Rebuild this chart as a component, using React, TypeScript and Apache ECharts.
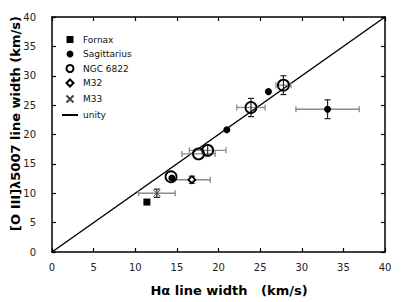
import React, { useEffect, useRef } from "react";
import * as echarts from "echarts";

const fornaxX = [11.4];
const fornaxY = [8.5];

const sagX = [14.4, 21.0, 26.0, 33.1];
const sagY = [12.6, 20.8, 27.3, 24.3];
const sagXErr = [0, 0, 0, 3.8];
const sagYErr = [0, 0, 0, 1.6];

const ngcX = [14.3, 17.6, 18.7, 23.9, 27.8];
const ngcY = [12.8, 16.7, 17.3, 24.6, 28.4];
const ngcXErr = [0, 2.0, 2.2, 1.7, 0.9];
const ngcYErr = [0, 0, 0.85, 1.55, 1.6];

const m32X = [16.8];
const m32Y = [12.3];
const m32XErr = [2.2];
const m32YErr = [0.6];

const m33X = [12.6];
const m33Y = [10.0];
const m33XErr = [2.2];
const m33YErr = [0.7];

const unityX = [0, 40];
const unityY = [0, 40];

const FONT = "DejaVu Sans";
const SQUARE = "path://M0,0L10,0L10,10L0,10Z";
const DIAMOND = "path://M5,0L10,5L5,10L0,5Z";
const CROSS = "path://M0,0L10,10M10,0L0,10";
const LINE_ICON = "path://M0,0L40,0L40,5L0,5Z";

function pts(xs: number[], ys: number[]) {
  return xs.map((x, i) => [x, ys[i]]);
}
function errPts(xs: number[], ys: number[], ex: number[], ey: number[]) {
  return xs.map((x, i) => [x, ys[i], ex[i], ey[i]]);
}

export default function App() {
  const ref = useRef<HTMLDivElement>(null);
  useEffect(() => {
    if (!ref.current) return;
    const chart = echarts.init(ref.current, null, { renderer: "svg" });

    const errorSeries = (data: number[][]) => ({
      type: "custom",
      silent: true,
      z: 1,
      encode: { x: 0, y: 1 },
      data,
      renderItem: (params: any, api: any) => {
        const x = api.value(0);
        const y = api.value(1);
        const ex = api.value(2);
        const ey = api.value(3);
        const children: any[] = [];
        const cap = 3;
        if (ex > 0) {
          const a = api.coord([x - ex, y]);
          const b = api.coord([x + ex, y]);
          const st = { stroke: "#8a8a8a", lineWidth: 1.3 };
          children.push({ type: "line", shape: { x1: a[0], y1: a[1], x2: b[0], y2: b[1] }, style: st });
          children.push({ type: "line", shape: { x1: a[0], y1: a[1] - cap, x2: a[0], y2: a[1] + cap }, style: st });
          children.push({ type: "line", shape: { x1: b[0], y1: b[1] - cap, x2: b[0], y2: b[1] + cap }, style: st });
        }
        if (ey > 0) {
          const a = api.coord([x, y - ey]);
          const b = api.coord([x, y + ey]);
          const st = { stroke: "#222", lineWidth: 1.2 };
          children.push({ type: "line", shape: { x1: a[0], y1: a[1], x2: b[0], y2: b[1] }, style: st });
          children.push({ type: "line", shape: { x1: a[0] - cap, y1: a[1], x2: a[0] + cap, y2: a[1] }, style: st });
          children.push({ type: "line", shape: { x1: b[0] - cap, y1: b[1], x2: b[0] + cap, y2: b[1] }, style: st });
        }
        return { type: "group", children };
      },
    });

    const axisCommon = {
      type: "value",
      min: 0,
      max: 40,
      interval: 5,
      splitLine: { show: false },
      axisLine: { show: true, onZero: false, lineStyle: { color: "#000", width: 1.5 } },
      axisTick: { show: true, inside: true, length: 4, lineStyle: { color: "#000", width: 1.2 } },
    };

    chart.setOption({
      animation: false,
      backgroundColor: "#fff",
      grid: {
        left: 52,
        right: 22,
        top: 17,
        bottom: 50,
        containLabel: false,
        outerBoundsMode: "none",
      },
      legend: {
        orient: "vertical",
        left: 62,
        top: 35,
        padding: 0,
        itemWidth: 16,
        itemHeight: 7,
        itemGap: 5.5,
        symbolKeepAspect: true,
        textStyle: { fontFamily: FONT, fontSize: 9, color: "#111" },
        data: [
          { name: "Fornax", icon: SQUARE },
          "Sagittarius",
          "NGC 6822",
          "M32",
          "M33",
          { name: "unity", icon: LINE_ICON },
        ],
      },
      xAxis: [
        {
          ...axisCommon,
          position: "bottom",
          axisLabel: { fontFamily: FONT, fontSize: 10, color: "#222", margin: 10 },
          name: "H\u03b1 line width   (km/s)",
          nameLocation: "middle",
          nameGap: 32,
          nameTextStyle: {
            fontFamily: FONT,
            fontSize: 13,
            fontWeight: "bold",
            color: "#000",
            padding: [0, 0, 0, 21],
          },
        },
        { ...axisCommon, position: "top", axisLabel: { show: false } },
      ],
      yAxis: [
        {
          ...axisCommon,
          position: "left",
          axisLabel: { fontFamily: FONT, fontSize: 10, color: "#222", margin: 16 },
          name: "[O III]\u03bb5007 line width (km/s)",
          nameLocation: "middle",
          nameGap: 30,
          nameMoveOverlap: false,
          nameTextStyle: {
            fontFamily: FONT,
            fontSize: 13,
            fontWeight: "bold",
            color: "#000",
            padding: [0, 0, 0, 22],
          },
        },
        { ...axisCommon, position: "right", axisLabel: { show: false } },
      ],
      series: [
        {
          name: "unity",
          type: "line",
          data: pts(unityX, unityY),
          symbol: "none",
          lineStyle: { color: "#000", width: 1.5 },
          itemStyle: { color: "#000" },
          z: 0,
          silent: true,
        },
        errorSeries(errPts(sagX, sagY, sagXErr, sagYErr)),
        errorSeries(errPts(ngcX, ngcY, ngcXErr, ngcYErr)),
        errorSeries(errPts(m32X, m32Y, m32XErr, m32YErr)),
        errorSeries(errPts(m33X, m33Y, m33XErr, m33YErr)),
        {
          name: "Fornax",
          type: "scatter",
          data: pts(fornaxX, fornaxY),
          symbol: SQUARE,
          symbolKeepAspect: true,
          symbolSize: 7,
          itemStyle: { color: "#000", opacity: 1 },
          z: 3,
        },
        {
          name: "Sagittarius",
          type: "scatter",
          data: pts(sagX, sagY),
          symbol: "circle",
          symbolSize: 7,
          itemStyle: { color: "#000", opacity: 1 },
          z: 3,
        },
        {
          name: "NGC 6822",
          type: "scatter",
          data: pts(ngcX, ngcY),
          symbol: "circle",
          symbolSize: 11,
          itemStyle: { color: "transparent", borderColor: "#000", borderWidth: 1.8, opacity: 1 },
          z: 4,
        },
        {
          name: "M32",
          type: "scatter",
          data: pts(m32X, m32Y),
          symbol: DIAMOND,
          symbolKeepAspect: true,
          symbolSize: 7,
          itemStyle: { color: "#fff", borderColor: "#000", borderWidth: 1.8, opacity: 1 },
          z: 3,
        },
        {
          name: "M33",
          type: "scatter",
          data: pts(m33X, m33Y),
          symbol: CROSS,
          symbolKeepAspect: true,
          symbolSize: 7,
          itemStyle: { color: "none", borderColor: "#444", borderWidth: 1, opacity: 1 },
          z: 3,
        },
      ],
    });
    return () => chart.dispose();
  }, []);
  return (
    <div
      ref={ref}
      style={{ position: "fixed", left: 0, top: 0, width: 407, height: 302 }}
    />
  );
}
